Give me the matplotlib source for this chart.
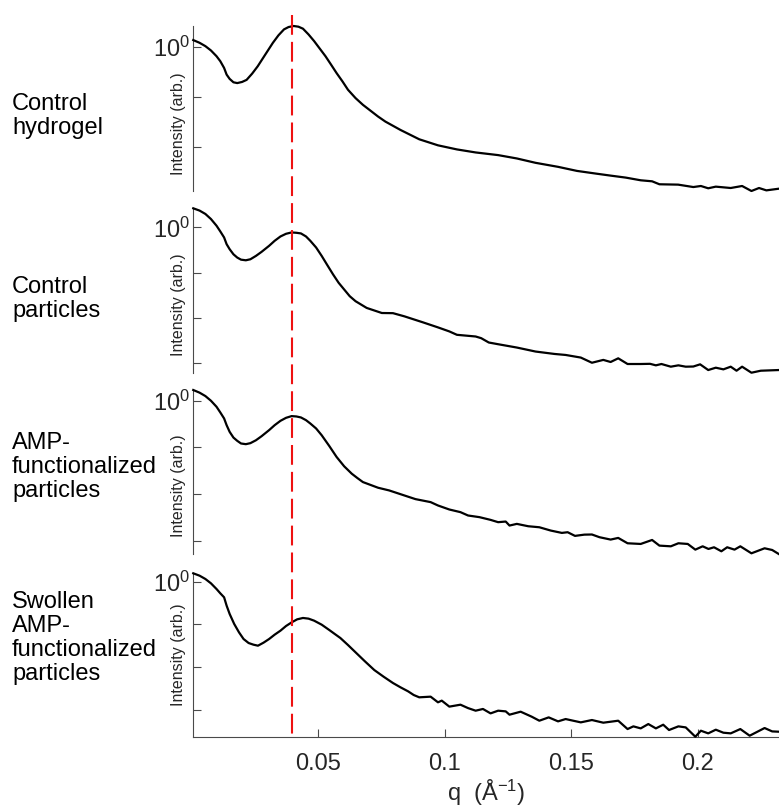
import matplotlib
matplotlib.use('Agg')
import matplotlib.pyplot as plt
from matplotlib.ticker import NullLocator

plt.rcParams['font.family'] = ['Liberation Sans', 'DejaVu Sans']
plt.rcParams['mathtext.fontset'] = 'custom'
plt.rcParams['mathtext.rm'] = 'Liberation Sans'
plt.rcParams['mathtext.it'] = 'Liberation Sans:italic'
plt.rcParams['mathtext.bf'] = 'Liberation Sans:bold'

# ---------------- data ----------------
sample_labels = ["Control\nhydrogel",
                 "Control\nparticles",
                 "AMP-\nfunctionalized\nparticles",
                 "Swollen\nAMP-\nfunctionalized\nparticles"]

q1 = [0.0005, 0.0030, 0.0053, 0.0075, 0.0097, 0.0112, 0.0127, 0.0137, 0.0149, 0.0164,
      0.0179, 0.0198, 0.0216, 0.0238, 0.0260, 0.0290, 0.0320, 0.0342, 0.0364, 0.0382,
      0.0402, 0.0421, 0.0439, 0.0461, 0.0483, 0.0506, 0.0528, 0.0550, 0.0572, 0.0595,
      0.0617, 0.0647, 0.0676, 0.0736, 0.0765, 0.0825,
      0.0899, 0.0973, 0.1048, 0.1122, 0.1211, 0.1285, 0.1359, 0.1448, 0.1523, 0.1597,
      0.1656, 0.1716, 0.1775, 0.1820, 0.1849, 0.1923, 0.1983, 0.2013, 0.2042, 0.2072,
      0.2131, 0.2176, 0.2213, 0.2243, 0.2272, 0.2321]
i1 = [1.36, 1.20, 1.03, 0.845, 0.65, 0.517, 0.38, 0.280, 0.23, 0.197,
      0.19, 0.200, 0.22, 0.293, 0.41, 0.702, 1.20, 1.69, 2.22, 2.47,
      2.59, 2.51, 2.29, 1.76, 1.30, 0.912, 0.65, 0.443, 0.30, 0.206,
      0.140, 0.0955, 0.0703, 0.0411, 0.0326, 0.0222,
      0.0145, 0.0110, 0.00912, 0.00794, 0.00703, 0.00603, 0.00494, 0.00411, 0.00341, 0.00302,
      0.00275, 0.00251, 0.00222, 0.00212, 0.00185, 0.00182, 0.00163, 0.00171, 0.00154, 0.00166,
      0.00156, 0.00171, 0.00136, 0.00156, 0.00140, 0.00151]

q2 = [0.0005, 0.0030, 0.0053, 0.0075, 0.0097, 0.0112, 0.0127, 0.0137, 0.0149, 0.0164,
      0.0179, 0.0194, 0.0213, 0.0231, 0.0253, 0.0275, 0.0305, 0.0327, 0.0350, 0.0372,
      0.0394, 0.0413, 0.0431, 0.0451, 0.0468, 0.0491, 0.0513, 0.0535, 0.0558, 0.0580,
      0.0602, 0.0624, 0.0647, 0.0691, 0.0751, 0.0795,
      0.0840, 0.0914, 0.0973, 0.1018, 0.1048, 0.1122, 0.1144, 0.1174, 0.1211, 0.1285,
      0.1359, 0.1434, 0.1478, 0.1538, 0.1582, 0.1627, 0.1656, 0.1686, 0.1723, 0.1775,
      0.1812, 0.1835, 0.1857, 0.1894, 0.1924, 0.1953, 0.1983, 0.2010, 0.2042, 0.2072,
      0.2102, 0.2131, 0.2154, 0.2176, 0.2213, 0.2250, 0.2321]
i2 = [2.64, 2.35, 1.98, 1.53, 1.09, 0.815, 0.600, 0.426, 0.330, 0.255,
      0.216, 0.194, 0.188, 0.198, 0.235, 0.288, 0.392, 0.506, 0.631, 0.723,
      0.774, 0.761, 0.736, 0.631, 0.506, 0.360, 0.235, 0.148, 0.0918, 0.060,
      0.0426, 0.0303, 0.0235, 0.0167, 0.0129, 0.0128,
      0.0109, 0.00801, 0.00621, 0.00506, 0.00426, 0.00391, 0.00359, 0.00288, 0.00264, 0.00223,
      0.00182, 0.00161, 0.00153, 0.00134, 0.00103, 0.00119, 0.00107, 0.00129, 0.000966, 0.000966,
      0.000975, 0.000903, 0.000966, 0.000843, 0.000903, 0.000843, 0.000850, 0.000950, 0.000711, 0.000801,
      0.000736, 0.000843, 0.000687, 0.000843, 0.000621, 0.000687, 0.000711]

q3 = [0.0005, 0.0030, 0.0053, 0.0075, 0.0097, 0.0112, 0.0127, 0.0137, 0.0149, 0.0164,
      0.0179, 0.0194, 0.0213, 0.0231, 0.0253, 0.0275, 0.0305, 0.0327, 0.0350, 0.0372,
      0.0394, 0.0413, 0.0431, 0.0451, 0.0468, 0.0491, 0.0513, 0.0543, 0.0572, 0.0602,
      0.0632, 0.0654, 0.0676, 0.0736, 0.0780, 0.0840,
      0.0884, 0.0944, 0.0973, 0.1018, 0.1062, 0.1092, 0.1137, 0.1181, 0.1211, 0.1241,
      0.1256, 0.1285, 0.1330, 0.1374, 0.1419, 0.1463, 0.1486, 0.1515, 0.1552, 0.1582,
      0.1612, 0.1656, 0.1686, 0.1723, 0.1775, 0.1820, 0.1849, 0.1894, 0.1924, 0.1961,
      0.1991, 0.2020, 0.2043, 0.2065, 0.2094, 0.2117, 0.2146, 0.2169, 0.2213, 0.2265,
      0.2295, 0.2321]
i3 = [1.70, 1.49, 1.26, 1.00, 0.743, 0.561, 0.417, 0.299, 0.215, 0.162,
      0.138, 0.121, 0.117, 0.123, 0.142, 0.173, 0.234, 0.299, 0.371, 0.430,
      0.468, 0.460, 0.438, 0.383, 0.325, 0.254, 0.182, 0.107, 0.0622, 0.0392,
      0.0272, 0.0220, 0.0180, 0.0136, 0.0119, 0.00929,
      0.00775, 0.00668, 0.00566, 0.00464, 0.00407, 0.00345, 0.00318, 0.00278, 0.00248, 0.00256,
      0.00210, 0.00228, 0.00203, 0.00193, 0.00164, 0.00146, 0.00151, 0.00126, 0.00134, 0.00135,
      0.00118, 0.00105, 0.00114, 0.000875, 0.000846, 0.00103, 0.000779, 0.000753, 0.000875, 0.000846,
      0.000639, 0.000753, 0.000661, 0.000718, 0.000589, 0.000718, 0.000639, 0.000753, 0.000533, 0.000683,
      0.000628, 0.000515]

q4 = [0.0005, 0.0030, 0.0053, 0.0075, 0.0097, 0.0112, 0.0127, 0.0137, 0.0149, 0.0167,
      0.0186, 0.0204, 0.0224, 0.0243, 0.0261, 0.0283, 0.0305, 0.0327, 0.0350, 0.0372,
      0.0394, 0.0416, 0.0439, 0.0461, 0.0483, 0.0513, 0.0543, 0.0565, 0.0587, 0.0617,
      0.0647, 0.0684, 0.0721, 0.0758, 0.0795, 0.0825, 0.0855, 0.0877, 0.0899,
      0.0944, 0.0973, 0.0988, 0.1018, 0.1062, 0.1092, 0.1122, 0.1151, 0.1181, 0.1211,
      0.1241, 0.1256, 0.1300, 0.1344, 0.1374, 0.1411, 0.1448, 0.1478, 0.1508, 0.1538,
      0.1582, 0.1627, 0.1686, 0.1723, 0.1746, 0.1775, 0.1805, 0.1835, 0.1864, 0.1887,
      0.1924, 0.1953, 0.1991, 0.2013, 0.2042, 0.2072, 0.2102, 0.2131, 0.2169, 0.2206,
      0.2265, 0.2295, 0.2321]
i4 = [1.57, 1.38, 1.155, 0.914, 0.673, 0.533, 0.430, 0.274, 0.175, 0.102,
      0.0649, 0.0453, 0.0365, 0.0334, 0.0316, 0.0372, 0.0453, 0.0573, 0.0711, 0.0914,
      0.111, 0.131, 0.141, 0.136, 0.122, 0.0982, 0.0737, 0.0593, 0.0478, 0.0328,
      0.0221, 0.0136, 0.00851, 0.00593, 0.00422, 0.00334, 0.00269, 0.00221, 0.00195,
      0.00202, 0.00149, 0.00163, 0.00118, 0.00131, 0.00109, 0.000948, 0.00104, 0.000820, 0.000948,
      0.000914, 0.000764, 0.000898, 0.000685, 0.000552, 0.000661, 0.000533, 0.000604, 0.000552, 0.000505,
      0.000573, 0.000496, 0.000552, 0.000352, 0.000407, 0.000365, 0.000461, 0.000365, 0.000445, 0.000334,
      0.000407, 0.000385, 0.000233, 0.000322, 0.000279, 0.000340, 0.000289, 0.000279, 0.000352, 0.000246,
      0.000372, 0.000310, 0.000305]

series_q = [q1, q2, q3, q4]
series_i = [i1, i2, i3, i4]

peak_q = 0.0395
x_limits = [0.0004, 0.2322]
x_ticks = [0.05, 0.1, 0.15, 0.2]
x_ticklabels = ["0.05", "0.1", "0.15", "0.2"]
y_decades = [-3, -2, -1, 0]

# ---------------- layout ----------------
W, H = 779, 809
fig = plt.figure(figsize=(W / 100, H / 100), dpi=100)
left_px, right_px = 193, 779
panel_px = [(26, 191), (208.3, 372.7), (390, 554), (573.3, 736.7)]
label_center_px = [116, 299, 467, 638]
ylabel_center_px = [124, 305, 486, 655]

axis_col = '#262626'
spine_col = '#4a4a4a'

for k, (top, bot) in enumerate(panel_px):
    ax = fig.add_axes([left_px / W, 1 - bot / H, (right_px - left_px) / W, (bot - top) / H])
    ax.set_facecolor('none')
    ax.plot(series_q[k], series_i[k], color='black', lw=1.6, clip_on=False, zorder=3,
            solid_joinstyle='round')
    ax.set_yscale('log')
    ax.set_xlim(x_limits)
    ax.set_ylim(min(series_i[k]), max(series_i[k]))
    lo, hi = ax.get_ylim()
    ticks = [10.0 ** d for d in y_decades if lo <= 10.0 ** d <= hi]
    ax.set_yticks(ticks)
    ax.set_yticklabels([r'$\mathregular{10^{0}}$' if abs(t - 1) < 1e-9 else '' for t in ticks])
    ax.yaxis.set_minor_locator(NullLocator())
    ax.xaxis.set_minor_locator(NullLocator())
    for s in ['top', 'right']:
        ax.spines[s].set_visible(False)
    ax.spines['left'].set_color(spine_col)
    ax.spines['left'].set_linewidth(0.8)
    ax.tick_params(axis='both', direction='in', length=6, width=0.8, color=spine_col,
                   labelsize=17, labelcolor=axis_col, pad=2)
    if k < 3:
        ax.spines['bottom'].set_visible(False)
        ax.set_xticks([])
    else:
        ax.spines['bottom'].set_color(spine_col)
        ax.spines['bottom'].set_linewidth(0.8)
        ax.set_xticks(x_ticks)
        ax.set_xticklabels(x_ticklabels)
        ax.tick_params(axis='x', pad=12)
    fig.text(179 / W, 1 - ylabel_center_px[k] / H, "Intensity (arb.)", rotation=90,
             ha='center', va='center', fontsize=11.5, color=axis_col)
    fig.text(12 / W, 1 - label_center_px[k] / H, sample_labels[k], ha='left', va='center',
             fontsize=17, color='black', linespacing=1.1)

# red dashed reference line across all panels
ov = fig.add_axes([left_px / W, 1 - 736.7 / H, (right_px - left_px) / W, (736.7 - 15) / H])
ov.set_xlim(x_limits)
ov.set_ylim(0, 1)
ov.axis('off')
ov.plot([peak_q, peak_q], [1, 0], color='#ee1111', lw=1.5, dashes=(9.5, 3.4), zorder=5)

fig.text(486 / W, 1 - 793 / H, r'q  (Å$^{-1}$)', ha='center', va='center',
         fontsize=17, color=axis_col)

fig.savefig('out.png', dpi=100)
